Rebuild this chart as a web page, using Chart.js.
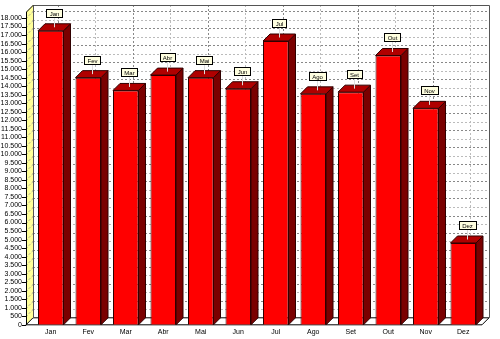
<!DOCTYPE html>
<html>
<head>
<meta charset="utf-8">
<script src="https://cdn.jsdelivr.net/npm/chart.js@4"></script>
<style>
  body { margin: 0; background: #ffffff; }
  #chart { display: block; }
</style>
</head>
<body>
<canvas id="chart" width="500" height="339"></canvas>
<script>
const mois = ['Jan', 'Fev', 'Mar', 'Abr', 'Mai', 'Jun', 'Jul', 'Ago', 'Set', 'Out', 'Nov', 'Dez'];
const valeurs = [17250, 14500, 13750, 14650, 14500, 13850, 16650, 13550, 13650, 15800, 12700, 4800];
const yMax = 18000;
const yPas = 500;

const dx = 7;
const dy = 7;

function formatMilliers(v) {
  return String(v).replace(/\B(?=(\d{3})+(?!\d))/g, '.');
}

const decor3d = {
  id: 'decor3d',
  beforeDatasetsDraw(chart) {
    const c = chart.ctx;
    const a = chart.chartArea;
    const y = chart.scales.y;
    const meta = chart.getDatasetMeta(0);
    const gauche = a.left - 6;
    const bas = a.bottom;
    const haut = a.top - 6;
    const droite = a.right;

    c.save();
    // mur du fond
    c.fillStyle = '#ffffff';
    c.fillRect(gauche + dx, haut - dy, droite - gauche, bas - haut);

    // mur de gauche jaune
    c.fillStyle = '#ffff99';
    c.beginPath();
    c.moveTo(gauche, bas);
    c.lineTo(gauche, haut);
    c.lineTo(gauche + dx, haut - dy);
    c.lineTo(gauche + dx, bas - dy);
    c.closePath();
    c.fill();

    // grille horizontale
    c.lineWidth = 1;
    c.setLineDash([2, 2]);
    let i = 0;
    for (let v = 0; v <= yMax; v += yPas) {
      const py = Math.round(y.getPixelForValue(v)) + 0.5;
      c.strokeStyle = i % 2 === 0 ? '#888888' : '#bbbbbb';
      c.beginPath();
      c.moveTo(gauche + dx, py - dy);
      c.lineTo(droite + dx, py - dy);
      c.stroke();
      c.strokeStyle = '#999999';
      c.beginPath();
      c.moveTo(gauche, py);
      c.lineTo(gauche + dx, py - dy);
      c.stroke();
      i++;
    }
    // grille verticale
    meta.data.forEach(function (bar, k) {
      const px = Math.round(bar.x + dx) + 0.5;
      c.strokeStyle = k % 2 === 0 ? '#888888' : '#bbbbbb';
      c.beginPath();
      c.moveTo(px, haut - dy);
      c.lineTo(px, bas - dy);
      c.stroke();
    });
    c.setLineDash([]);

    // petits traits de graduation
    c.strokeStyle = '#000000';
    for (let v = 0; v <= yMax; v += yPas) {
      const py = Math.round(y.getPixelForValue(v)) + 0.5;
      c.beginPath();
      c.moveTo(gauche - 4, py);
      c.lineTo(gauche, py);
      c.stroke();
    }

    // sol
    c.fillStyle = '#ffffff';
    c.beginPath();
    c.moveTo(gauche, bas);
    c.lineTo(droite, bas);
    c.lineTo(droite + dx, bas - dy);
    c.lineTo(gauche + dx, bas - dy);
    c.closePath();
    c.fill();
    c.strokeStyle = '#000000';
    c.stroke();

    // bords des murs
    c.strokeStyle = '#555555';
    c.beginPath();
    c.moveTo(gauche + dx + 0.5, bas - dy);
    c.lineTo(gauche + dx + 0.5, haut - dy + 0.5);
    c.lineTo(droite + dx + 0.5, haut - dy + 0.5);
    c.lineTo(droite + dx + 0.5, bas - dy);
    c.stroke();
    c.strokeStyle = '#000000';
    c.beginPath();
    c.moveTo(gauche + 0.5, bas);
    c.lineTo(gauche + 0.5, haut);
    c.lineTo(gauche + dx + 0.5, haut - dy);
    c.stroke();
    c.restore();
  },
  afterDatasetsDraw(chart) {
    const c = chart.ctx;
    const meta = chart.getDatasetMeta(0);
    c.save();
    c.lineWidth = 1;
    meta.data.forEach(function (bar, k) {
      const g = bar.x - bar.width / 2;
      const d = bar.x + bar.width / 2;
      // face de côté
      c.fillStyle = '#7a0000';
      c.strokeStyle = '#300000';
      c.beginPath();
      c.moveTo(d, bar.y);
      c.lineTo(d + dx, bar.y - dy);
      c.lineTo(d + dx, bar.base - dy);
      c.lineTo(d, bar.base);
      c.closePath();
      c.fill();
      c.stroke();
      // dessus
      c.fillStyle = '#b00000';
      c.beginPath();
      c.moveTo(g, bar.y);
      c.lineTo(g + dx, bar.y - dy);
      c.lineTo(d + dx, bar.y - dy);
      c.lineTo(d, bar.y);
      c.closePath();
      c.fill();
      c.stroke();

      // étiquette
      const cx = Math.round(bar.x + dx / 2);
      const boiteBas = bar.y - dy - 7;
      c.strokeStyle = '#dddddd';
      c.beginPath();
      c.moveTo(cx + 0.5, bar.y - dy / 2);
      c.lineTo(cx + 0.5, boiteBas);
      c.stroke();
      c.font = '6px "Liberation Sans", Arial, sans-serif';
      const tw = c.measureText(mois[k]).width;
      const bw = Math.round(tw + 6);
      const bh = 8;
      const bx = Math.round(cx - bw / 2) + 0.5;
      const by = Math.round(boiteBas - bh) + 0.5;
      c.fillStyle = '#ffffe0';
      c.fillRect(bx, by, bw, bh);
      c.strokeStyle = '#000000';
      c.strokeRect(bx, by, bw, bh);
      c.fillStyle = '#000000';
      c.textAlign = 'center';
      c.textBaseline = 'middle';
      c.fillText(mois[k], cx + 0.5, by + bh / 2 + 0.5);
    });
    c.restore();
  }
};

const ctx = document.getElementById('chart');
new Chart(ctx, {
  type: 'bar',
  data: {
    labels: mois,
    datasets: [{
      label: 'Valores',
      data: valeurs,
      backgroundColor: '#ff0000',
      borderColor: '#300000',
      borderWidth: 1,
      barPercentage: 0.68,
      categoryPercentage: 1
    }]
  },
  options: {
    responsive: false,
    animation: false,
    devicePixelRatio: 1,
    layout: {
      padding: { top: 18, right: 18, left: 0, bottom: 0 }
    },
    plugins: {
      legend: { display: false },
      tooltip: { enabled: false }
    },
    scales: {
      x: {
        afterFit: function (scale) { scale.height = 13; },
        grid: { display: false, drawTicks: false },
        border: { display: false },
        ticks: {
          padding: 3,
          color: '#000000',
          font: { size: 7, family: '"Liberation Sans", Arial, sans-serif' }
        }
      },
      y: {
        min: 0,
        max: yMax,
        afterFit: function (scale) { scale.width = 32; },
        grid: { display: false, drawTicks: false },
        border: { display: false },
        ticks: {
          stepSize: yPas,
          autoSkip: false,
          padding: 10,
          color: '#000000',
          font: { size: 7, family: '"Liberation Sans", Arial, sans-serif' },
          callback: function (v) { return formatMilliers(v); }
        }
      }
    }
  },
  plugins: [decor3d]
});
</script>
</body>
</html>
